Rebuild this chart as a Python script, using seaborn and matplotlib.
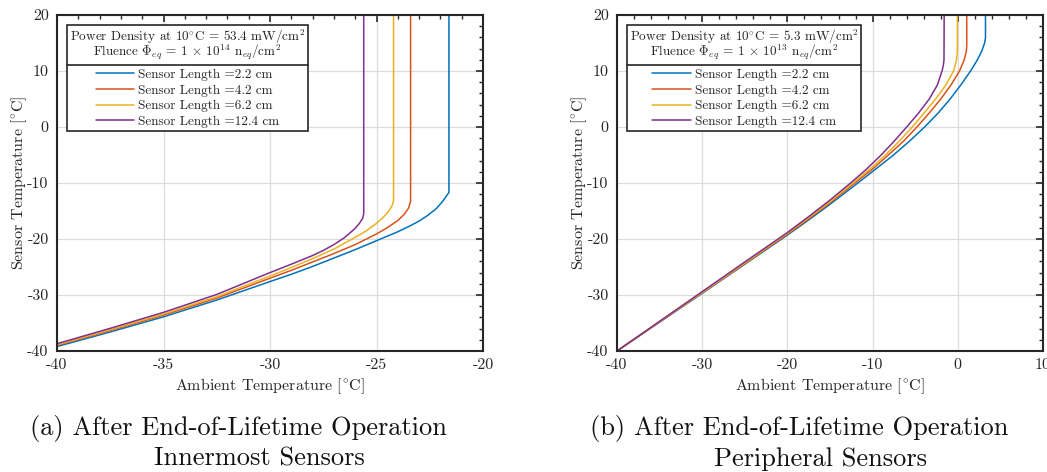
import matplotlib
matplotlib.use("Agg")
import matplotlib.pyplot as plt
from matplotlib.ticker import MultipleLocator
from matplotlib.lines import Line2D
import seaborn as sns
import pandas as pd

# ---------------- data ----------------
series_labels = ["Sensor Length =2.2 cm", "Sensor Length =4.2 cm",
                 "Sensor Length =6.2 cm", "Sensor Length =12.4 cm"]
colors = ["#0072BD", "#D95319", "#EDB120", "#7E2F8E"]

# (a) Innermost sensors: ambient (x) and sensor (y) temperatures
a_x_22 = [-40, -37.5, -35, -32.5, -30, -29, -28, -27, -26, -25, -24, -23.5, -23, -22.6, -22.2, -21.9, -21.6, -21.6]
a_y_22 = [-39.2, -36.6, -33.9, -30.9, -27.6, -26.3, -24.9, -23.4, -21.9, -20.3, -18.7, -17.8, -16.8, -15.8, -14.6, -13.3, -11.7, 20]
a_x_42 = [-40, -37.5, -35, -32.5, -30, -29, -28, -27, -26, -25, -24.5, -24, -23.7, -23.5, -23.4, -23.4]
a_y_42 = [-39.0, -36.35, -33.6, -30.55, -27.0, -25.6, -24.1, -22.6, -21.0, -19.1, -18.0, -16.7, -15.6, -14.5, -13.3, 20]
a_x_62 = [-40, -37.5, -35, -32.5, -30, -29, -28, -27, -26, -25.5, -25, -24.7, -24.4, -24.25, -24.2, -24.2]
a_y_62 = [-38.9, -36.2, -33.4, -30.3, -26.6, -25.1, -23.5, -21.8, -19.7, -18.6, -17.2, -16.2, -14.9, -13.9, -13.1, 20]
a_x_124 = [-40, -37.5, -35, -32.5, -30, -29, -28, -27.5, -27, -26.5, -26, -25.8, -25.65, -25.6, -25.6]
a_y_124 = [-38.7, -35.95, -33.1, -29.9, -26.0, -24.5, -22.95, -22.05, -21.0, -19.75, -18.1, -17.2, -16.3, -15.5, 20]

# (b) Peripheral sensors
b_x_22 = [-40, -35, -30, -25, -20, -17.5, -15, -12.5, -10, -7.55, -5.65, -3.9, -2.3, -0.9, 0.35, 1.5, 2.3, 2.8, 3.15, 3.25, 3.25]
b_y_22 = [-40, -34.85, -29.7, -24.5, -19.3, -16.6, -13.8, -10.9, -7.95, -5, -2.5, 0, 2.5, 5, 7.5, 10, 12, 13.5, 15, 16, 20]
b_x_42 = [-40, -35, -30, -25, -20, -17.5, -15, -12.5, -10, -8.15, -6.35, -4.8, -3.35, -2.0, -0.8, 0.2, 0.75, 1.0, 1.05, 1.05]
b_y_42 = [-40, -34.8, -29.6, -24.4, -19.15, -16.4, -13.55, -10.5, -7.5, -5, -2.5, 0, 2.5, 5, 7.5, 10, 12, 13.5, 14.5, 20]
b_x_62 = [-40, -35, -30, -25, -20, -17.5, -15, -12.5, -10, -8.5, -6.85, -5.35, -3.95, -2.6, -1.4, -0.5, -0.15, -0.05, -0.05]
b_y_62 = [-40, -34.75, -29.55, -24.3, -19.0, -16.2, -13.35, -10.25, -7.1, -5, -2.5, 0, 2.5, 5, 7.5, 10, 12, 13.5, 20]
b_x_124 = [-40, -35, -30, -25, -20, -17.5, -15, -12.5, -10.7, -9.0, -7.45, -6.0, -4.6, -3.35, -2.4, -1.85, -1.7, -1.62, -1.6]
b_y_124 = [-40, -34.7, -29.4, -24.1, -18.85, -16.0, -13.05, -9.9, -7.5, -5, -2.5, 0, 2.5, 5, 7.5, 10, 11, 12, 20]

a_titles = ["Power Density at $10^{\\circ}\\mathrm{C}$ = 53.4 mW/cm$^2$",
            "Fluence $\\Phi_{eq}$ = 1 $\\times$ 10$^{14}$ n$_{eq}$/cm$^2$"]
b_titles = ["Power Density at $10^{\\circ}\\mathrm{C}$ = 5.3 mW/cm$^2$",
            "Fluence $\\Phi_{eq}$ = 1 $\\times$ 10$^{13}$ n$_{eq}$/cm$^2$"]
caption_a = ["(a) After End-of-Lifetime Operation", "Innermost Sensors"]
caption_b = ["(b) After End-of-Lifetime Operation", "Peripheral Sensors"]
xlabel = "Ambient Temperature [$^{\\circ}\\mathrm{C}$]"
ylabel = "Sensor Temperature [$^{\\circ}\\mathrm{C}$]"


def make_df(xs, ys):
    rows = []
    for lab, x, y in zip(series_labels, xs, ys):
        for xv, yv in zip(x, y):
            rows.append({"Ambient": xv, "Sensor": yv, "series": lab})
    return pd.DataFrame(rows)


df_a = make_df([a_x_22, a_x_42, a_x_62, a_x_124], [a_y_22, a_y_42, a_y_62, a_y_124])
df_b = make_df([b_x_22, b_x_42, b_x_62, b_x_124], [b_y_22, b_y_42, b_y_62, b_y_124])

# ---------------- style ----------------
sns.set_theme(style="white")
plt.rcParams["font.family"] = ["cmr10", "DejaVu Serif"]
plt.rcParams["mathtext.fontset"] = "cm"
plt.rcParams["axes.unicode_minus"] = False
plt.rcParams["axes.formatter.use_mathtext"] = False
dark = "#262626"

fig = plt.figure(figsize=(10.47, 4.72), dpi=100)
W, H = 1047, 472
ax_a = fig.add_axes([57 / W, (H - 351) / H, 426 / W, 336 / H])
ax_b = fig.add_axes([617 / W, (H - 351) / H, 426 / W, 336 / H])


def style_axes(ax, df, xlim, xmaj, xmin, titles):
    sns.lineplot(data=df, x="Ambient", y="Sensor", hue="series", palette=colors,
                 sort=False, estimator=None, units="series", ax=ax, linewidth=1.1)
    ax.set_xlim(*xlim)
    ax.set_ylim(-40, 20)
    ax.xaxis.set_major_locator(MultipleLocator(xmaj))
    ax.xaxis.set_minor_locator(MultipleLocator(xmin))
    ax.yaxis.set_major_locator(MultipleLocator(10))
    ax.yaxis.set_minor_locator(MultipleLocator(2))
    ax.grid(True, which="major", color="#dcdcdc", linewidth=0.9)
    ax.set_axisbelow(True)
    ax.tick_params(which="both", direction="in", top=True, right=True,
                   colors=dark, labelsize=11.5)
    ax.tick_params(axis="y", pad=6)
    ax.tick_params(axis="x", pad=5)
    ax.tick_params(which="major", length=5, width=1.2)
    ax.tick_params(which="minor", length=3, width=1.0)
    for s in ax.spines.values():
        s.set_color(dark)
        s.set_linewidth(1.5)
    ax.set_xlabel(xlabel, fontsize=11.5, color=dark)
    ax.set_ylabel(ylabel, fontsize=11.5, color=dark)
    ax.xaxis.set_label_coords(0.5, -0.077)
    ax.yaxis.set_label_coords(-0.066, 0.5)
    handles, labels = ax.get_legend_handles_labels()
    leg = ax.legend(handles, labels, title="\n".join(titles), loc="upper left",
                    bbox_to_anchor=(10 / 426, 0.97), borderaxespad=0, fontsize=9.5,
                    title_fontsize=9.5, frameon=True, fancybox=False,
                    edgecolor=dark, handlelength=2.9, handletextpad=0.3,
                    labelspacing=0.26, borderpad=0.2, alignment="center")
    leg.get_frame().set_linewidth(1.2)
    leg.get_frame().set_alpha(1)
    leg.get_title().set_multialignment("center")
    leg.get_title().set_linespacing(0.72)
    leg._legend_box.sep = 5
    return leg


leg_a = style_axes(ax_a, df_a, (-40, -20), 5, 1, a_titles)
leg_b = style_axes(ax_b, df_b, (-40, 10), 10, 2, b_titles)

# separator line between legend title and entries
fig.canvas.draw()
renderer = fig.canvas.get_renderer()
inv = fig.transFigure.inverted()
for leg in (leg_a, leg_b):
    fb = leg.get_frame().get_window_extent(renderer)
    tb = leg.get_title().get_window_extent(renderer)
    hb = leg._legend_handle_box.get_window_extent(renderer)
    yline = 0.5 * (tb.y0 + hb.y1)
    (x0, y0) = inv.transform((fb.x0, yline))
    (x1, _) = inv.transform((fb.x1, yline))
    fig.add_artist(Line2D([x0, x1], [y0, y0], transform=fig.transFigure,
                          color=dark, linewidth=1.2))

# captions
cap_kw = dict(ha="center", va="center", fontsize=19, color="#111111")
fig.text(238 / W, 1 - 428 / H, caption_a[0], **cap_kw)
fig.text(259 / W, 1 - 459 / H, caption_a[1], **cap_kw)
fig.text(799 / W, 1 - 428 / H, caption_b[0], **cap_kw)
fig.text(820 / W, 1 - 459 / H, caption_b[1], **cap_kw)

fig.savefig("out.png", dpi=100)
